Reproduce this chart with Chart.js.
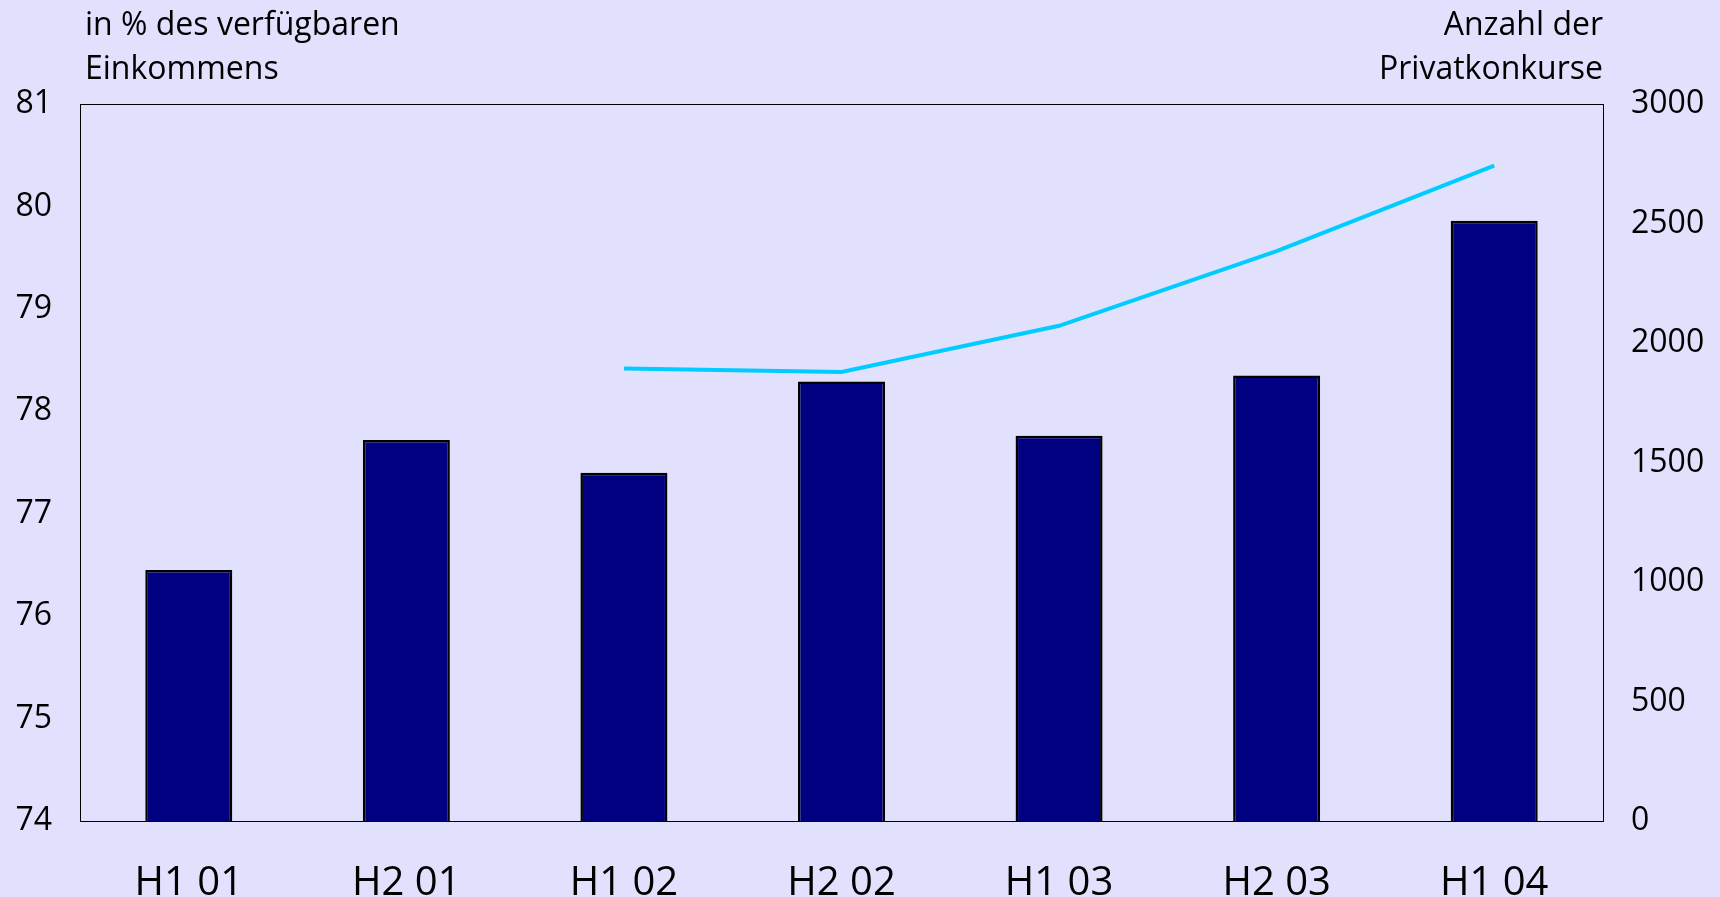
<!DOCTYPE html>
<html>
<head>
<meta charset="utf-8">
<script src="https://cdn.jsdelivr.net/npm/chart.js@4"></script>
<style>
    html, body { margin: 0; padding: 0; background: #E1E1FE; }
    #wrap { position: relative; width: 1720px; height: 897px; }
    .titel { position: absolute; font-family: "Open Sans", sans-serif; font-size: 32px; line-height: 44px; color: #000; }
    #titelLinks { left: 85px; top: 1px; }
    #titelRechts { right: 117px; top: 1px; text-align: right; }
</style>
</head>
<body>
<div id="wrap">
    <canvas id="grafica" width="1720" height="897"></canvas>
    <div class="titel" id="titelLinks">in % des verfügbaren<br>Einkommens</div>
    <div class="titel" id="titelRechts">Anzahl der<br>Privatkonkurse</div>
</div>
<script>
const halbjahre = ['H1 01', 'H2 01', 'H1 02', 'H2 02', 'H1 03', 'H2 03', 'H1 04'];
const verschuldung = [76.45, 77.72, 77.40, 78.29, 77.76, 78.35, 79.86];
const privatkonkurse = [null, null, 1893, 1879, 2072, 2384, 2742];

const schrift = '"Open Sans", sans-serif';

// Rahmen um die Zeichenflaeche
const rahmen = {
    id: 'rahmen',
    afterDatasetsDraw(chart) {
        const a = chart.chartArea;
        const ctx = chart.ctx;
        ctx.save();
        ctx.strokeStyle = '#000';
        ctx.lineWidth = 1;
        ctx.strokeRect(Math.round(a.left) + 0.5, Math.round(a.top) + 0.5, Math.round(a.right - a.left), Math.round(a.bottom - a.top));
        ctx.restore();
    }
};

const config = {
    type: 'bar',
    data: {
        labels: halbjahre,
        datasets: [{
            type: 'line',
            label: 'Privatkonkurse',
            data: privatkonkurse,
            yAxisID: 'y1',
            borderColor: '#00CCFF',
            borderWidth: 4,
            pointRadius: 0,
            fill: false,
            tension: 0,
            order: 0
        }, {
            label: 'Verschuldung',
            data: verschuldung,
            yAxisID: 'y',
            backgroundColor: '#000080',
            borderColor: '#000',
            borderWidth: 2.5,
            borderSkipped: false,
            categoryPercentage: 1,
            barPercentage: 0.4,
            order: 1
        }]
    },
    options: {
        responsive: false,
        animation: false,
        layout: { padding: { top: 104, left: 0, right: 0, bottom: 0 } },
        plugins: {
            legend: { display: false },
            tooltip: { enabled: false }
        },
        scales: {
            x: {
                grid: { display: false, drawTicks: false },
                border: { display: false },
                ticks: { color: '#000', font: { family: schrift, size: 40 }, padding: 39, maxRotation: 0 },
                afterFit: (s) => { s.height = 76; }
            },
            y: {
                position: 'left',
                min: 74,
                max: 81,
                grid: { display: false, drawTicks: false },
                border: { display: false },
                ticks: { stepSize: 1, color: '#000', font: { family: schrift, size: 32 }, padding: 28 },
                afterFit: (s) => { s.width = 80; }
            },
            y1: {
                position: 'right',
                min: 0,
                max: 3000,
                grid: { display: false, drawTicks: false },
                border: { display: false },
                ticks: {
                    stepSize: 500, color: '#000', font: { family: schrift, size: 32 }, padding: 28,
                    callback: (v) => String(v)
                },
                afterFit: (s) => { s.width = 117; }
            }
        }
    },
    plugins: [rahmen]
};

const grafica = new Chart(document.getElementById('grafica'), config);
</script>
</body>
</html>
